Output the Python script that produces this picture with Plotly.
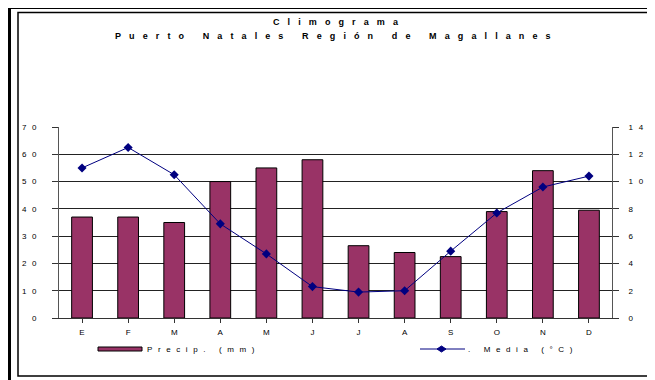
import plotly.graph_objects as go

# Climograma de Puerto Natales: precipitación (barras) y temperatura media (línea)
meses = ["E", "F", "M", "A", "M", "J", "J", "A", "S", "O", "N", "D"]
precip_mm = [37, 37, 35, 50, 55, 58, 26.5, 24, 22.5, 39, 54, 39.5]
temp_media = [11.0, 12.5, 10.5, 6.9, 4.7, 2.3, 1.9, 2.0, 4.9, 7.7, 9.6, 10.4]
ticks_precip = [0, 10, 20, 30, 40, 50, 60, 70]
ticks_temp = [0, 2, 4, 6, 8, 10, 12, 14]

# the page body has an 8px margin, so the figure is drawn 8px smaller
OFF = 8
W, H = 655 - OFF, 380 - OFF
L, R, T, B = 59, 612, 127, 318  # plot area, in page pixels
FONT = "Liberation Sans, Arial, sans-serif"


def spaced(s, sep="\u2002\u2009"):
    # the old Excel chart draws its text letter-spaced
    return sep.join(s)


def xp(px):
    return (px - L) / (R - L)


def yp(py):
    return (B - py) / (B - T)


xpos = list(range(len(meses)))

fig = go.Figure()
fig.add_trace(go.Bar(
    x=xpos, y=precip_mm, name="Precip. (mm)",
    marker=dict(color="#993366", line=dict(color="black", width=1)),
    width=0.45,
))
fig.add_trace(go.Scatter(
    x=xpos, y=temp_media, name="T. Media (°C)", yaxis="y2",
    mode="lines+markers",
    line=dict(color="#000080", width=1),
    marker=dict(symbol="diamond", size=7, color="#000080"),
))

shapes = [
    # frame around the chart
    dict(type="rect", xref="paper", yref="paper", x0=xp(5), x1=xp(700), y0=yp(4), y1=yp(420),
         fillcolor="#9a9a8a", line=dict(width=0), layer="below"),
    dict(type="rect", xref="paper", yref="paper", x0=xp(8), x1=xp(700), y0=yp(6.5), y1=yp(420),
         fillcolor="black", line=dict(width=0), layer="below"),
    dict(type="rect", xref="paper", yref="paper", x0=xp(11), x1=xp(700), y0=yp(9), y1=yp(420),
         fillcolor="white", line=dict(width=0), layer="below"),
    dict(type="rect", xref="paper", yref="paper", x0=xp(18), x1=xp(652), y0=yp(12.5), y1=yp(376),
         fillcolor="rgba(0,0,0,0)", line=dict(color="black", width=1.5), layer="below"),
    # legend symbols
    dict(type="rect", xref="paper", yref="paper", x0=xp(98), x1=xp(142), y0=yp(351), y1=yp(347),
         fillcolor="#993366", line=dict(color="black", width=1)),
    dict(type="line", xref="paper", yref="paper", x0=xp(420), x1=xp(465), y0=yp(349), y1=yp(349),
         line=dict(color="#000080", width=1)),
    dict(type="path", xref="paper", yref="paper",
         path=f"M {xp(437)} {yp(349)} L {xp(441.5)} {yp(346)} L {xp(446)} {yp(349)} "
              f"L {xp(441.5)} {yp(352)} Z",
         fillcolor="#000080", line=dict(color="#000080", width=1)),
]

title_sep = "\u2002\u2009\u2009"
annotations = [
    dict(text="<b>" + spaced("Climograma", title_sep) + "</b>", xref="paper", yref="paper",
         x=xp(336), y=yp(22), xanchor="center", yanchor="middle", showarrow=False,
         font=dict(size=9)),
    dict(text="<b>" + spaced("Puerto Natales Región de Magallanes", title_sep) + "</b>",
         xref="paper", yref="paper", x=xp(333), y=yp(36), xanchor="center", yanchor="middle",
         showarrow=False, font=dict(size=9)),
    dict(text=spaced("Precip. (mm)"), xref="paper", yref="paper", x=xp(145), y=yp(349),
         xanchor="left", yanchor="middle", showarrow=False, font=dict(size=8)),
    dict(text=spaced(". Media (°C)"), xref="paper", yref="paper", x=xp(466), y=yp(349),
         xanchor="left", yanchor="middle", showarrow=False, font=dict(size=8)),
]

fig.update_layout(
    width=W, height=H,
    margin=dict(l=L - OFF, r=W - (R - OFF), t=T - OFF, b=H - (B - OFF)),
    paper_bgcolor="#ece6a4",
    plot_bgcolor="rgba(0,0,0,0)",
    font=dict(family=FONT, size=8, color="black"),
    xaxis=dict(
        tickmode="array", tickvals=xpos, ticktext=meses,
        range=[-0.5, len(meses) - 0.5],
        tickson="boundaries", ticks="outside", ticklen=4, tickcolor="#333",
        showgrid=False, showline=True, linecolor="#333", linewidth=1,
        zeroline=False, ticklabelstandoff=2,
    ),
    yaxis=dict(
        range=[0, 70], tickmode="array", tickvals=ticks_precip,
        ticktext=[spaced(str(v)) for v in ticks_precip],
        ticks="outside", ticklen=6, tickcolor="#333",
        showgrid=True, gridcolor="#222", gridwidth=1,
        showline=True, linecolor="#555", linewidth=1, zeroline=False,
        ticklabelstandoff=14,
    ),
    yaxis2=dict(
        range=[0, 14], overlaying="y", side="right", tickmode="array", tickvals=ticks_temp,
        ticktext=[spaced(str(v)) for v in ticks_temp],
        ticks="outside", ticklen=6, tickcolor="#333",
        showgrid=False, showline=True, linecolor="#555", linewidth=1, zeroline=False,
        ticklabelstandoff=8,
    ),
    shapes=shapes,
    annotations=annotations,
    showlegend=False,
)

fig.write_html("out.html")
